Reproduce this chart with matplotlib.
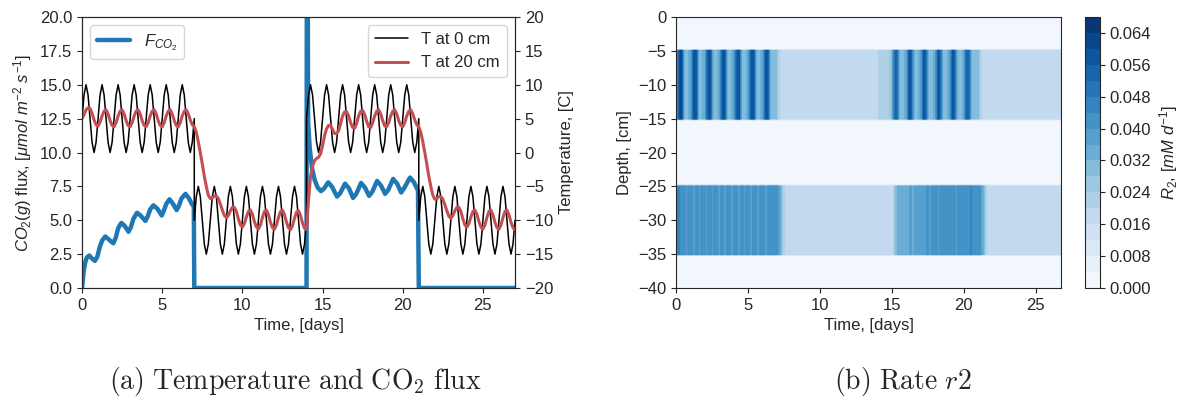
import numpy as np
import matplotlib
matplotlib.use("Agg")
import matplotlib.pyplot as plt
import matplotlib.ticker as mticker
import seaborn as sns

sns.set_style("ticks")
plt.rcParams["font.family"] = ["Liberation Sans", "DejaVu Sans"]
plt.rcParams["mathtext.fontset"] = "custom"
plt.rcParams["mathtext.rm"] = "Liberation Sans"
plt.rcParams["mathtext.it"] = "Liberation Sans:italic"
plt.rcParams["mathtext.bf"] = "Liberation Sans:bold"

# ---------------------------------------------------------------------------
# data
# ---------------------------------------------------------------------------

# temperature samples, 1/8 day apart, four regimes (warm, cold, warm, cold)
t_T = np.concatenate([np.arange(0, 7.01, 0.125), np.arange(7, 14.01, 0.125),
                      np.arange(14, 21.01, 0.125), np.arange(21, 27.01, 0.125)])

T_0cm = [
    5.0, 8.5, 10.0, 8.5, 5.0, 1.5, 0.0, 1.5,
    5.0, 8.5, 10.0, 8.5, 5.0, 1.5, 0.0, 1.5,
    5.0, 8.5, 10.0, 8.5, 5.0, 1.5, 0.0, 1.5,
    5.0, 8.5, 10.0, 8.5, 5.0, 1.5, 0.0, 1.5,
    5.0, 8.5, 10.0, 8.5, 5.0, 1.5, 0.0, 1.5,
    5.0, 8.5, 10.0, 8.5, 5.0, 1.5, 0.0, 1.5,
    5.0, 8.5, 10.0, 8.5, 5.0, 1.5, 0.0, 1.5,
    5.0,
    -10.0, -6.5, -5.0, -6.5, -10.0, -13.5, -15.0, -13.5,
    -10.0, -6.5, -5.0, -6.5, -10.0, -13.5, -15.0, -13.5,
    -10.0, -6.5, -5.0, -6.5, -10.0, -13.5, -15.0, -13.5,
    -10.0, -6.5, -5.0, -6.5, -10.0, -13.5, -15.0, -13.5,
    -10.0, -6.5, -5.0, -6.5, -10.0, -13.5, -15.0, -13.5,
    -10.0, -6.5, -5.0, -6.5, -10.0, -13.5, -15.0, -13.5,
    -10.0, -6.5, -5.0, -6.5, -10.0, -13.5, -15.0, -13.5,
    -10.0,
    5.0, 8.5, 10.0, 8.5, 5.0, 1.5, 0.0, 1.5,
    5.0, 8.5, 10.0, 8.5, 5.0, 1.5, 0.0, 1.5,
    5.0, 8.5, 10.0, 8.5, 5.0, 1.5, 0.0, 1.5,
    5.0, 8.5, 10.0, 8.5, 5.0, 1.5, 0.0, 1.5,
    5.0, 8.5, 10.0, 8.5, 5.0, 1.5, 0.0, 1.5,
    5.0, 8.5, 10.0, 8.5, 5.0, 1.5, 0.0, 1.5,
    5.0, 8.5, 10.0, 8.5, 5.0, 1.5, 0.0, 1.5,
    5.0,
    -10.0, -6.5, -5.0, -6.5, -10.0, -13.5, -15.0, -13.5,
    -10.0, -6.5, -5.0, -6.5, -10.0, -13.5, -15.0, -13.5,
    -10.0, -6.5, -5.0, -6.5, -10.0, -13.5, -15.0, -13.5,
    -10.0, -6.5, -5.0, -6.5, -10.0, -13.5, -15.0, -13.5,
    -10.0, -6.5, -5.0, -6.5, -10.0, -13.5, -15.0, -13.5,
    -10.0, -6.5, -5.0, -6.5, -10.0, -13.5, -15.0, -13.5,
    -10.0,
]

T_20cm = [
    5.0, 5.6, 6.3, 6.6, 6.5, 5.8, 4.8, 4.1,
    3.9, 4.5, 5.4, 6.1, 6.3, 5.7, 4.7, 4.0,
    3.8, 4.4, 5.4, 6.1, 6.3, 5.7, 4.7, 4.0,
    3.8, 4.4, 5.4, 6.1, 6.3, 5.7, 4.7, 4.0,
    3.8, 4.4, 5.4, 6.1, 6.3, 5.7, 4.7, 4.0,
    3.8, 4.4, 5.4, 6.1, 6.3, 5.7, 4.7, 4.0,
    3.8, 4.4, 5.4, 6.1, 6.3, 5.7, 4.8, 4.1,
    3.8,
    3.8, 3.0, 1.6, 0.0, -1.7, -3.5, -5.0, -6.3,
    -6.8, -6.7, -6.4, -6.4, -6.8, -7.6, -8.5, -9.3,
    -9.6, -9.3, -8.6, -8.1, -8.1, -8.7, -9.8, -10.7,
    -11.0, -10.5, -9.5, -8.7, -8.5, -9.1, -10.2, -11.0,
    -11.3, -10.7, -9.6, -8.7, -8.5, -9.2, -10.3, -11.1,
    -11.3, -10.7, -9.6, -8.7, -8.5, -9.2, -10.3, -11.1,
    -11.4, -10.8, -9.7, -8.8, -8.6, -9.3, -10.4, -11.2,
    -11.4,
    -11.4, -7.0, -3.5, -2.0, -1.2, -0.9, -0.7, -0.2,
    1.0, 2.5, 3.5, 4.0, 4.0, 3.4, 2.8, 2.8,
    3.2, 4.3, 5.4, 6.0, 6.0, 5.4, 4.4, 3.7,
    3.6, 4.3, 5.4, 6.1, 6.2, 5.6, 4.6, 3.8,
    3.7, 4.4, 5.4, 6.1, 6.3, 5.7, 4.7, 3.9,
    3.8, 4.4, 5.4, 6.1, 6.3, 5.7, 4.7, 4.0,
    3.8, 4.4, 5.4, 6.1, 6.3, 5.7, 4.8, 4.1,
    3.8,
    3.8, 3.0, 1.6, 0.0, -1.7, -3.5, -5.0, -6.3,
    -6.9, -6.8, -6.5, -6.5, -6.9, -7.7, -8.6, -9.4,
    -9.7, -9.3, -8.6, -8.1, -8.1, -8.7, -9.8, -10.7,
    -11.0, -10.5, -9.5, -8.7, -8.5, -9.1, -10.2, -11.0,
    -11.3, -10.7, -9.6, -8.7, -8.5, -9.2, -10.3, -11.1,
    -11.3, -10.7, -9.6, -8.7, -8.5, -9.2, -10.3, -11.1,
    -11.4,
]

# CO2 flux at the surface
flux_t = [0.0, 0.1, 0.2, 0.3, 0.45, 0.6, 0.8, 0.95, 1.1, 1.25, 1.45, 1.65,
          1.95, 2.1, 2.25, 2.45, 2.65, 2.9, 3.05, 3.2, 3.43, 3.65, 3.95, 4.1,
          4.25, 4.45, 4.7, 4.97, 5.1, 5.25, 5.45, 5.65, 5.9, 6.05, 6.2, 6.45,
          6.65, 6.85, 6.97, 7.0, 14.0, 14.03, 14.1, 14.2, 14.35, 14.5, 14.7,
          14.9, 15.1, 15.35, 15.6, 15.9, 16.1, 16.4, 16.65, 16.9, 17.1, 17.4,
          17.65, 17.9, 18.1, 18.4, 18.65, 18.9, 19.1, 19.4, 19.65, 19.9, 20.1,
          20.45, 20.7, 20.95, 21.0, 27.0]
flux = [0.0, 1.2, 1.9, 2.25, 2.4, 2.2, 2.0, 2.3, 3.0, 3.5, 3.8, 3.6,
        3.3, 3.7, 4.4, 4.8, 4.6, 4.15, 4.5, 5.1, 5.55, 5.35, 4.95, 5.3,
        5.8, 6.1, 5.85, 5.35, 5.7, 6.2, 6.55, 6.25, 5.75, 6.1, 6.6, 6.95,
        6.65, 6.2, 6.0, 0.0, 0.0, 40.0, 12.2, 10.3, 8.8, 8.0, 7.4,
        7.15, 7.35, 7.8, 7.45, 6.75, 7.0, 7.7, 7.35, 6.65, 6.95, 7.75,
        7.4, 6.8, 7.1, 7.9, 7.55, 6.95, 7.25, 8.05, 7.7, 7.05, 7.4,
        8.15, 7.8, 7.2, 0.0, 0.0]

# rate r2 in the two reactive layers, 1/8 day apart
t_map = np.arange(0, 26.76, 0.125)
r2_upper = [
    0.036, 0.046, 0.056, 0.062, 0.040, 0.028, 0.030, 0.032,
    0.034, 0.044, 0.056, 0.060, 0.040, 0.028, 0.030, 0.032,
    0.034, 0.046, 0.058, 0.060, 0.038, 0.028, 0.031, 0.032,
    0.034, 0.046, 0.056, 0.060, 0.040, 0.028, 0.030, 0.032,
    0.034, 0.044, 0.056, 0.060, 0.038, 0.028, 0.031, 0.032,
    0.034, 0.046, 0.058, 0.060, 0.040, 0.028, 0.030, 0.032,
    0.034, 0.044, 0.056, 0.058, 0.038, 0.028, 0.030, 0.030,
    0.028, 0.022, 0.019, 0.018, 0.018, 0.018, 0.018, 0.018,
    0.018, 0.018, 0.018, 0.018, 0.018, 0.018, 0.018, 0.018,
    0.018, 0.018, 0.018, 0.018, 0.018, 0.018, 0.018, 0.018,
    0.018, 0.018, 0.018, 0.018, 0.018, 0.018, 0.018, 0.018,
    0.018, 0.018, 0.018, 0.018, 0.018, 0.018, 0.018, 0.018,
    0.018, 0.018, 0.018, 0.018, 0.018, 0.018, 0.018, 0.018,
    0.018, 0.018, 0.018, 0.018, 0.018, 0.018, 0.018, 0.018,
    0.018, 0.021, 0.023, 0.024, 0.022, 0.021, 0.023, 0.025,
    0.028, 0.042, 0.054, 0.048, 0.034, 0.028, 0.030, 0.032,
    0.034, 0.046, 0.058, 0.050, 0.034, 0.028, 0.030, 0.032,
    0.034, 0.046, 0.058, 0.050, 0.034, 0.028, 0.031, 0.032,
    0.034, 0.046, 0.058, 0.050, 0.034, 0.028, 0.030, 0.032,
    0.034, 0.046, 0.058, 0.050, 0.034, 0.028, 0.031, 0.032,
    0.034, 0.046, 0.056, 0.048, 0.034, 0.028, 0.030, 0.030,
    0.028, 0.022, 0.019, 0.018, 0.018, 0.018, 0.018, 0.018,
    0.018, 0.018, 0.018, 0.018, 0.018, 0.018, 0.018, 0.018,
    0.018, 0.018, 0.018, 0.018, 0.018, 0.018, 0.018, 0.018,
    0.018, 0.018, 0.018, 0.018, 0.018, 0.018, 0.018, 0.018,
    0.018, 0.018, 0.018, 0.018, 0.018, 0.018, 0.018, 0.018,
    0.018, 0.018, 0.018, 0.018, 0.018, 0.018, 0.018,
]
r2_lower = [
    0.048, 0.046, 0.044, 0.040, 0.044, 0.042, 0.036, 0.042,
    0.044, 0.040, 0.036, 0.042, 0.044, 0.038, 0.042, 0.040,
    0.042, 0.038, 0.043, 0.044, 0.036, 0.041, 0.043, 0.040,
    0.038, 0.042, 0.044, 0.036, 0.040, 0.043, 0.041, 0.037,
    0.041, 0.044, 0.040, 0.036, 0.042, 0.044, 0.038, 0.041,
    0.043, 0.039, 0.036, 0.042, 0.044, 0.040, 0.037, 0.042,
    0.044, 0.041, 0.037, 0.040, 0.043, 0.044, 0.040, 0.042,
    0.041, 0.038, 0.033, 0.026, 0.021, 0.018, 0.018, 0.018,
    0.018, 0.018, 0.018, 0.018, 0.018, 0.018, 0.018, 0.018,
    0.018, 0.018, 0.018, 0.018, 0.018, 0.018, 0.018, 0.018,
    0.018, 0.018, 0.018, 0.018, 0.018, 0.018, 0.018, 0.018,
    0.018, 0.018, 0.018, 0.018, 0.018, 0.018, 0.018, 0.018,
    0.018, 0.018, 0.018, 0.018, 0.018, 0.018, 0.018, 0.018,
    0.018, 0.018, 0.018, 0.018, 0.018, 0.018, 0.018, 0.018,
    0.018, 0.018, 0.018, 0.018, 0.018, 0.018, 0.018, 0.018,
    0.018, 0.020, 0.028, 0.032, 0.034, 0.032, 0.035, 0.034,
    0.036, 0.033, 0.038, 0.036, 0.034, 0.038, 0.036, 0.039,
    0.037, 0.040, 0.036, 0.039, 0.041, 0.037, 0.040, 0.042,
    0.039, 0.042, 0.038, 0.041, 0.043, 0.039, 0.042, 0.040,
    0.043, 0.040, 0.044, 0.041, 0.039, 0.043, 0.044, 0.041,
    0.042, 0.044, 0.040, 0.043, 0.045, 0.041, 0.043, 0.044,
    0.042, 0.040, 0.036, 0.030, 0.022, 0.019, 0.018, 0.018,
    0.018, 0.018, 0.018, 0.018, 0.018, 0.018, 0.018, 0.018,
    0.018, 0.018, 0.018, 0.018, 0.018, 0.018, 0.018, 0.018,
    0.018, 0.018, 0.018, 0.018, 0.018, 0.018, 0.018, 0.018,
    0.018, 0.018, 0.018, 0.018, 0.018, 0.018, 0.018, 0.018,
    0.018, 0.018, 0.018, 0.018, 0.018, 0.018, 0.018,
]
r2_background = 0.001
upper_layer = (-15, -5)
lower_layer = (-35, -25)

# ---------------------------------------------------------------------------
# figure
# ---------------------------------------------------------------------------

fig = plt.figure(figsize=(11.82, 4.05), dpi=100)
ax1 = fig.add_axes([0.0694, 0.2889, 0.3663, 0.6691])
ax2 = ax1.twinx()
ax3 = fig.add_axes([0.5719, 0.2889, 0.3257, 0.6691])
cax = fig.add_axes([0.918, 0.2889, 0.0127, 0.6691])

FS = 12

# (a) temperature and flux
ax1.plot(flux_t, flux, color="#1f77b4", linewidth=3.2, label=r"$F_{CO_2}$")
ax1.set_xlim(0, 27)
ax1.set_ylim(0, 20)
ax1.set_yticks(np.arange(0, 20.1, 2.5))
ax1.yaxis.set_major_formatter(mticker.FormatStrFormatter("%.1f"))
ax1.set_xlabel("Time, [days]", fontsize=FS)
ax1.set_ylabel(r"$CO_2(g)$ flux, $[\mu mol\ m^{-2}\ s^{-1}]$", fontsize=FS)
ax1.tick_params(labelsize=FS)
ax1.legend(loc="upper left", fontsize=FS)

ax2.plot(t_T, T_0cm, color="black", linewidth=1.1, label="T at 0 cm")
ax2.plot(t_T, T_20cm, color="#C44E52", linewidth=2.2, label="T at 20 cm")
ax2.set_ylim(-20, 20)
ax2.set_yticks(np.arange(-20, 21, 5))
ax2.set_ylabel("Temperature, [C]", fontsize=FS)
ax2.tick_params(labelsize=FS)
ax2.legend(loc="upper right", fontsize=FS)

# (b) rate r2
depth = np.arange(0, -40.01, -0.25)
Z = np.full((len(depth), len(t_map)), r2_background)
Z[(depth >= upper_layer[0]) & (depth <= upper_layer[1])] = r2_upper
Z[(depth >= lower_layer[0]) & (depth <= lower_layer[1])] = r2_lower
levels = np.arange(0, 0.0681, 0.004)
cs = ax3.contourf(t_map, depth, Z, levels=levels, cmap="Blues")
ax3.set_xlim(0, 26.75)
ax3.set_ylim(-40, 0)
ax3.set_yticks(np.arange(-40, 1, 5))
ax3.set_xlabel("Time, [days]", fontsize=FS)
ax3.set_ylabel("Depth, [cm]", fontsize=FS)
ax3.tick_params(labelsize=FS)

cb = fig.colorbar(cs, cax=cax, ticks=np.arange(0, 0.065, 0.008))
cb.ax.yaxis.set_major_formatter(mticker.FormatStrFormatter("%.3f"))
cb.ax.tick_params(labelsize=FS)
cb.set_label(r"$R_2$, $[mM\ d^{-1}]$", fontsize=FS)

# captions
fig.text(0.25, 0.04, r"$\mathrm{(a)\ Temperature\ and\ CO_2\ flux}$",
         math_fontfamily="cm", fontsize=20, ha="center", va="baseline")
fig.text(0.764, 0.04, r"$\mathrm{(b)\ Rate\ }r2$",
         math_fontfamily="cm", fontsize=20, ha="center", va="baseline")

fig.savefig("out.png", dpi=100)
